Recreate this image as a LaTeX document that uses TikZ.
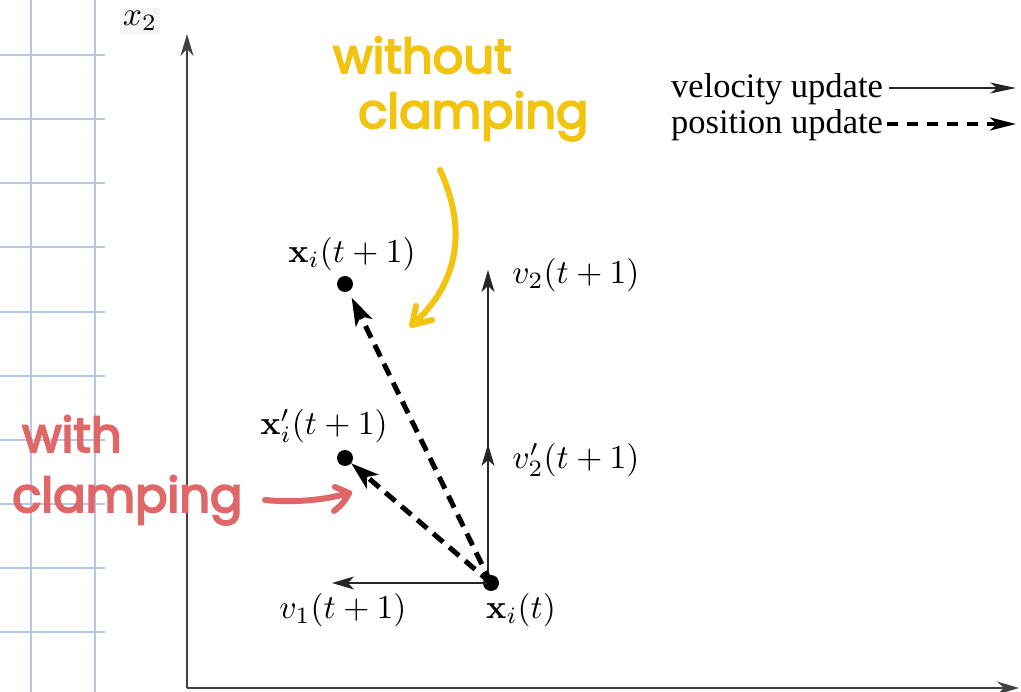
\documentclass[tikz,border=0pt]{standalone}
\usepackage[no-math]{fontspec}
\setmainfont{Liberation Serif}
\newfontfamily\handfont{Poppins}[FakeBold=4]
\usetikzlibrary{arrows.meta}
\definecolor{gridblue}{HTML}{B4C7E7}
\definecolor{hyellow}{HTML}{F2C40F}
\definecolor{hred}{HTML}{E06767}
\newcommand{\mylab}[1]{\scalebox{3.35}{$#1$}}
\tikzset{
  gridline/.style={gridblue, line width=1.2pt},
  axisline/.style={black!75, line width=1.8pt, -{Stealth[length=22pt,width=13pt]}},
  velarrow/.style={black!85, line width=1.4pt, -{Stealth[length=22pt,width=13pt,inset=6pt]}},
  posarrow/.style={black, line width=5pt, dash pattern=on 13pt off 8pt, -{Stealth[length=28pt,width=18pt,inset=7pt]}},
  dotnode/.style={circle, fill=black, inner sep=0pt, minimum size=16pt},
  mathlbl/.style={inner sep=0pt},
  legendlbl/.style={font=\fontsize{34.5}{40}\selectfont, inner sep=0pt, anchor=west},
  handy/.style={font=\handfont\fontsize{48}{50}\selectfont, text=hyellow, inner sep=0pt, anchor=base west},
  handr/.style={font=\handfont\fontsize{48}{50}\selectfont, text=hred, inner sep=0pt, anchor=base west},
  yellowpen/.style={hyellow, line width=6pt, line cap=round, line join=round},
  redpen/.style={hred, line width=6pt, line cap=round, line join=round}
}
\begin{document}
\begin{tikzpicture}[x=1pt,y=-1pt]
\useasboundingbox (0,0) rectangle (1021,692);
\fill[white] (0,0) rectangle (1021,692);
% grid paper
\foreach \gx in {31,95} \draw[gridline] (\gx,0) -- (\gx,692);
\foreach \gy in {55,119,183,247,312,376,440,504,568,632} \draw[gridline] (0,\gy) -- (105,\gy);
% axes
\coordinate (origin) at (187,688);
\coordinate (ytip) at (187,34);
\coordinate (xtip) at (1019,688);
\draw[axisline] (origin) -- (ytip);
\draw[axisline] (origin) -- (xtip);
\node[mathlbl, fill=black!4, inner sep=3pt] (x2lbl) at (140,21) {\mylab{x_2}};
% points
\node[dotnode] (xt) at (491,583) {};
\node[dotnode] (xt1) at (345,284) {};
\node[dotnode] (xpt1) at (345,458) {};
% velocity arrows
\coordinate (vbase) at (488,583);
\coordinate (v2tip) at (488,270);
\coordinate (v2ptip) at (488,444);
\coordinate (v1tip) at (332,583);
\draw[velarrow] (vbase) -- (v2tip);
\draw[velarrow] (vbase) -- (v2ptip);
\draw[velarrow] (xt.center) -- (v1tip);
% position arrows
\draw[posarrow, shorten >=15pt] (xt.center) -- (xt1.center);
\draw[posarrow, shorten >=8pt] (xt.center) -- (xpt1.center);
% labels
\node[mathlbl] (lxt1) at (352,254) {\mylab{\mathbf{x}_i(t+1)}};
\node[mathlbl] (lxpt1) at (324,426) {\mylab{\mathbf{x}'_i(t+1)}};
\node[mathlbl] (lv2) at (576,275) {\mylab{v_2(t+1)}};
\node[mathlbl] (lv2p) at (576,460) {\mylab{v'_2(t+1)}};
\node[mathlbl] (lv1) at (343,610) {\mylab{v_1(t+1)}};
\node[mathlbl] (lxt) at (521,610) {\mylab{\mathbf{x}_i(t)}};
% legend
\node[legendlbl] (legv) at (671,89) {velocity update};
\node[legendlbl] (legp) at (671,125) {position update};
\coordinate (legvend) at (1016,88);
\coordinate (legpend) at (1016,124);
\draw[black!85, line width=1.2pt, -{Stealth[length=26pt,width=11pt,inset=7pt]}] ([xshift=6pt]legv.east |- legvend) -- (legvend);
\draw[black, line width=3.5pt, dash pattern=on 11pt off 9pt, -{Stealth[length=26pt,width=13pt,inset=7pt]}] ([xshift=4pt]legp.east |- legpend) -- (legpend);
% handwritten annotations
\node[handy] (wo1) at (333,73) {without};
\node[handy] (wo2) at (358,128) {clamping};
\coordinate (ystart) at (440,170);
\coordinate (ytipc) at (412,325);
\draw[yellowpen] (ystart) .. controls (468,230) and (458,285) .. (ytipc);
\draw[yellowpen] (416,306) -- (ytipc) -- (432,320);
\node[handr] (w1) at (22,452) {with};
\node[handr] (w2) at (12,512) {clamping};
\coordinate (rstart) at (265,500);
\coordinate (rtip) at (349,493);
\draw[redpen] (rstart) .. controls (295,503) and (325,500) .. (rtip);
\draw[redpen] (335,487) -- (rtip) .. controls (345,502) and (338,508) .. (334,511);
\end{tikzpicture}
\end{document}
